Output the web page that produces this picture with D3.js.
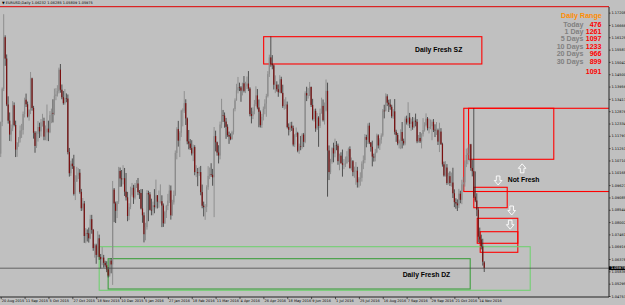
<!DOCTYPE html>
<html><head><meta charset="utf-8">
<script src="https://cdn.jsdelivr.net/npm/d3@7/dist/d3.min.js"></script>
<style>html,body{margin:0;padding:0;background:#c0c0c0;} svg{display:block}</style>
</head><body><svg id="c" width="625" height="305"></svg>
<script>
// EURUSD Daily, prices stored as pips over 1.0000 (price = 1 + v/10000)
const opens=[1101,1240,1386,1613,1519,1317,1246,1185,1212,1314,1227,1119,1148,1167,1203,1205,1275,1338,1318,1264,1292,1432,1302,1193,1135,1188,1218,1199,1239,1245,1176,1194,1211,1195,1270,1280,1277,1355,1361,1376,1470,1382,1349,1323,1345,1343,1108,1015,1057,1046,924,978,1005,1017,933,861,882,739,752,751,729,813,766,686,698,656,729,647,637,644,621,610,592,565,631,614,943,882,850,890,1025,992,988,993,934,909,827,867,920,951,908,962,970,932,928,860,830,747,778,928,922,854,851,874,866,918,890,890,892,873,795,844,871,894,939,830,887,920,1104,1209,1158,1193,1290,1290,1323,1256,1155,1145,1125,1102,1130,1020,1020,1015,1020,932,872,866,867,954,1003,1011,1008,997,1178,1151,1106,1093,1229,1269,1268,1242,1219,1183,1176,1165,1196,1297,1335,1379,1393,1392,1378,1410,1377,1396,1409,1387,1275,1267,1287,1318,1357,1304,1285,1226,1263,1298,1321,1354,1451,1524,1496,1489,1404,1404,1384,1371,1428,1368,1310,1314,1317,1218,1206,1224,1213,1141,1182,1192,1114,1133,1131,1185,1153,1367,1357,1357,1394,1315,1253,1289,1212,1260,1223,1280,1311,1248,1291,1377,1115,1020,1065,1125,1102,1138,1136,1068,1092,1059,1052,1053,1060,1089,1121,1038,1068,1020,1026,1026,975,991,995,1057,1073,1174,1162,1224,1150,1131,1088,1084,1107,1181,1137,1162,1181,1290,1289,1353,1325,1317,1307,1265,1287,1197,1183,1146,1157,1196,1157,1146,1255,1238,1260,1232,1242,1217,1246,1241,1155,1170,1155,1187,1205,1226,1255,1213,1218,1222,1241,1206,1204,1204,1154,1198,1143,1054,1005,1040,972,1002,972,974,927,888,882,874,925,898,966,975,1056,1095,1103,1142,1038,1024,912,895,855,736,724,693,623.2];
const highs=[1242,1392,1714,1621,1537,1353,1282,1229,1332,1326,1246,1152,1174,1225,1232,1286,1347,1365,1330,1296,1460,1435,1311,1200,1199,1244,1237,1253,1276,1259,1225,1317,1246,1288,1299,1340,1387,1389,1402,1479,1495,1405,1376,1385,1366,1361,1126,1070,1080,1096,1006,1043,1037,1033,946,906,893,774,768,776,832,832,770,705,705,760,745,660,690,656,630,628,602,640,641,981,950,890,893,1043,1040,1029,1050,1038,1016,933,883,956,972,964,972,985,994,941,945,945,843,797,941,938,932,903,890,945,987,919,939,966,918,882,850,876,924,964,961,898,939,1115,1217,1245,1200,1294,1300,1376,1340,1260,1205,1165,1160,1141,1138,1050,1038,1043,1047,965,890,879,962,1046,1040,1059,1034,1218,1202,1154,1138,1242,1342,1293,1282,1258,1230,1198,1190,1202,1300,1344,1408,1438,1413,1398,1413,1442,1417,1440,1464,1393,1303,1305,1337,1397,1385,1339,1291,1276,1308,1340,1364,1464,1536,1616,1534,1493,1445,1419,1405,1446,1439,1404,1340,1349,1330,1234,1240,1241,1224,1187,1216,1197,1145,1179,1191,1192,1375,1395,1389,1416,1396,1342,1298,1299,1280,1266,1299,1347,1339,1326,1427,1413,1137,1078,1129,1149,1167,1156,1145,1101,1107,1119,1077,1088,1112,1128,1133,1084,1073,1044,1064,1043,998,1019,1067,1093,1187,1184,1234,1237,1152,1158,1101,1122,1189,1186,1169,1190,1297,1316,1366,1362,1338,1340,1316,1297,1341,1206,1192,1163,1208,1240,1167,1264,1268,1327,1280,1255,1262,1260,1277,1253,1183,1196,1191,1257,1239,1278,1262,1255,1251,1250,1253,1230,1240,1211,1237,1213,1149,1066,1068,1055,1017,1023,1018,1039,944,905,900,946,938,986,999,1071,1123,1127,1143,1144,1073,1300,1023,927,865,776,745,727,628.5];
const lows=[1086,1222,1376,1487,1310,1233,1157,1155,1200,1221,1086,1087,1131,1150,1170,1185,1260,1306,1260,1246,1275,1290,1167,1105,1126,1154,1170,1176,1220,1160,1160,1158,1156,1191,1235,1238,1270,1336,1352,1366,1369,1340,1316,1316,1327,1098,1000,1003,1034,917,897,977,990,925,849,851,709,707,715,710,725,749,674,644,617,646,634,596,611,600,601,580,557,560,575,524,800,796,818,880,955,956,966,915,895,804,809,857,912,880,900,950,919,902,856,797,711,720,767,804,851,830,830,839,860,860,863,882,778,779,792,818,853,884,811,828,877,915,1076,1132,1086,1174,1221,1280,1227,1142,1120,1117,1093,1068,1006,998,958,1003,918,861,825,810,844,942,989,999,960,822,1111,1092,1058,1076,1213,1240,1215,1166,1175,1144,1160,1162,1185,1287,1334,1366,1376,1329,1357,1370,1367,1385,1376,1265,1234,1253,1274,1310,1296,1217,1216,1214,1247,1274,1263,1348,1438,1483,1472,1383,1367,1374,1351,1367,1366,1302,1294,1298,1212,1181,1196,1201,1133,1130,1174,1107,1100,1116,1123,1130,1147,1332,1343,1354,1306,1247,1242,1197,1205,1131,1214,1276,1242,1229,1287,912,985,1011,1057,1063,1085,1116,1052,1028,1057,1000,1033,1042,1056,1064,1035,1027,1002,995,964,952,952,960,978,1033,1059,1129,1143,1143,1110,1045,1066,1067,1103,1124,1117,1145,1175,1256,1286,1310,1284,1294,1257,1254,1185,1153,1138,1124,1121,1124,1137,1138,1229,1224,1214,1201,1206,1213,1221,1147,1150,1148,1124,1176,1198,1220,1203,1190,1208,1160,1196,1174,1183,1139,1108,1139,1044,1000,1000,964,966,959,956,906,866,859,849,862,883,879,941,956,1042,1054,1067,1026,1001,906,888,826,711,708,680,609,580.9];
const closes=[1240,1386,1613,1519,1317,1246,1185,1212,1314,1227,1119,1148,1167,1203,1205,1275,1338,1318,1264,1292,1432,1302,1193,1135,1188,1218,1199,1239,1245,1176,1194,1211,1195,1270,1280,1277,1355,1361,1376,1470,1382,1349,1323,1345,1343,1108,1015,1057,1046,924,978,1005,1017,933,861,882,739,752,751,729,813,766,686,698,656,729,647,637,644,621,610,592,565,631,614,943,882,850,890,1025,992,988,993,934,909,827,867,920,951,908,962,970,932,928,860,830,747,778,928,922,854,851,874,866,918,890,890,892,873,795,844,871,894,939,830,887,920,1104,1209,1158,1193,1290,1290,1323,1256,1155,1145,1125,1102,1130,1020,1020,1015,1020,932,872,866,867,954,1003,1011,1008,997,1178,1151,1106,1093,1229,1269,1268,1242,1219,1183,1176,1165,1196,1297,1335,1379,1393,1392,1378,1410,1377,1396,1409,1387,1275,1267,1287,1318,1357,1304,1285,1226,1263,1298,1321,1354,1451,1524,1496,1489,1404,1404,1384,1371,1428,1368,1310,1314,1317,1218,1206,1224,1213,1141,1182,1192,1114,1133,1131,1185,1153,1367,1357,1357,1394,1315,1253,1289,1212,1260,1223,1280,1311,1248,1291,1377,1115,1020,1065,1125,1102,1138,1136,1068,1092,1059,1052,1053,1060,1089,1121,1038,1068,1020,1026,1026,975,991,995,1057,1073,1174,1162,1224,1150,1131,1088,1084,1107,1181,1137,1162,1181,1290,1289,1353,1325,1317,1307,1265,1287,1197,1183,1146,1157,1196,1157,1146,1255,1238,1260,1232,1242,1217,1246,1241,1155,1170,1155,1187,1205,1226,1255,1213,1218,1222,1241,1206,1204,1204,1154,1198,1143,1054,1005,1040,972,1002,972,974,927,888,882,874,925,898,966,975,1056,1095,1103,1142,1038,1024,912,895,855,736,724,693,626,597.5];

const xTickLabels=["20 Aug 2015","11 Sep 2015","5 Oct 2015","27 Oct 2015","18 Nov 2015","10 Dec 2015","5 Jan 2016","27 Jan 2016","18 Feb 2016","11 Mar 2016","4 Apr 2016","26 Apr 2016","18 May 2016","9 Jun 2016","1 Jul 2016","25 Jul 2016","16 Aug 2016","7 Sep 2016","29 Sep 2016","21 Oct 2016","14 Nov 2016"];
const yTickLabels=["1.04753","1.05295","1.05836","1.06378","1.06919","1.07461","1.08002","1.08544","1.09085","1.09627","1.10168","1.10710","1.11251","1.11793","1.12334","1.12876","1.13417","1.13959","1.14500","1.15042","1.15583","1.16125","1.16666","1.17208"];
const titleText="\u25BC EURUSD,Daily  1.06232 1.06285 1.05809 1.05975";
const currentPrice=1.05975;

// zones: [startBar, endBar, topPrice, bottomPrice, kind]
const zoneStart=[176.2,310.3,313.5,317,319.3,321.3,66,72];
const zoneEnd  =[322.4,420,370.6,339.4,346.5,346.5,354.8,314.6];
const zoneTop  =[1.16151,1.13004,1.13004,1.09531,1.08168,1.07579,1.0692,1.06393];
const zoneBot  =[1.14951,1.09346,1.10762,1.08634,1.07070,1.06674,1.05004,1.05061];
const zoneKind =["sz","sz","sz","sz","sz","sz","dzOuter","dzInner"];

const noteText=["Daily Fresh SZ","Daily Fresh DZ","Not Fresh"];
const noteBar=[293.5,285.3,350.4];
const notePrice=[1.15597,1.05707,1.09883];

const arrowDir=["down","up","down","down"];
const arrowBar=[333.3,349.4,342.4,341.4];
const arrowPrice=[1.09830,1.10366,1.08511,1.07887];

const rangeTitle="Daily Range";
const rangeLabels=["Today","1 Day","5 Days","10 Days","20 Days","30 Days"];
const rangeValues=["476","1261","1097","1233","966","899"];
const rangeAverage="1091";

const svg=d3.select("#c");
const W=625,H=305, plotR=609, plotB=297, plotT=7;
const px=v=>1+v/10000;

const x=d3.scaleLinear().domain([0,407.6]).range([0.7,plotR]);
const y=d3.scaleLinear().domain([+yTickLabels[0],+yTickLabels[yTickLabels.length-1]]).range([296,296-23*12.32]);

svg.append("rect").attr("width",W).attr("height",H).attr("fill","#c0c0c0");

const plot=svg.append("g");
plot.append("clipPath").attr("id","clip").append("rect").attr("x",0).attr("y",plotT).attr("width",plotR).attr("height",plotB-plotT);
const g=plot.append("g").attr("clip-path","url(#clip)");

zoneKind.forEach((k,i)=>{
  let col = k==="dzOuter" ? "#72d072" : (k==="dzInner" ? "#3f9f3f" : "#ff0000");
  g.append("rect")
   .attr("x",x(zoneStart[i])).attr("y",y(zoneTop[i]))
   .attr("width",x(zoneEnd[i])-x(zoneStart[i])).attr("height",y(zoneBot[i])-y(zoneTop[i]))
   .attr("fill","none").attr("stroke",col).attr("stroke-width",1.1);
});

const data=closes.map((c,i)=>({i,o:px(opens[i]),h:px(highs[i]),l:px(lows[i]),c:px(c)}));
const cg=g.append("g");
cg.selectAll("line.w").data(data).join("line")
  .attr("x1",d=>x(d.i)).attr("x2",d=>x(d.i))
  .attr("y1",d=>y(d.h)).attr("y2",d=>y(d.l))
  .attr("stroke",d=>d.c>=d.o?"#7a7a7a":"#202020").attr("stroke-width",0.7);
cg.selectAll("rect.b").data(data).join("rect")
  .attr("x",d=>x(d.i)-0.6).attr("width",1.2)
  .attr("y",d=>y(Math.max(d.o,d.c))).attr("height",d=>Math.max(0.6,Math.abs(y(d.o)-y(d.c))))
  .attr("fill",d=>d.c>=d.o?"#8c8c8c":"#7a1010");

g.append("line").attr("x1",0).attr("x2",plotR).attr("y1",y(currentPrice)).attr("y2",y(currentPrice))
 .attr("stroke","#4a4a4a").attr("stroke-width",0.8);

arrowDir.forEach((d,i)=>{
  const cx=x(arrowBar[i]), cy=y(arrowPrice[i]);
  const s = d==="down"?1:-1;
  const pts=[[-1.8,-4.5],[1.8,-4.5],[1.8,0],[3.8,0],[0,4.5],[-3.8,0],[-1.8,0]].map(p=>[cx+p[0],cy+s*p[1]]);
  g.append("polygon").attr("points",pts.map(p=>p.join(",")).join(" "))
   .attr("fill","none").attr("stroke","#ffffff").attr("stroke-width",0.9);
});

noteText.forEach((t,i)=>{
  g.append("text").attr("x",x(noteBar[i])).attr("y",y(notePrice[i])).attr("dy","0.35em")
   .attr("text-anchor","middle").attr("font-family","Liberation Sans, Arial, sans-serif")
   .attr("font-weight","bold").attr("font-size",6.8).attr("fill","#000").text(t);
});

svg.append("line").attr("x1",0).attr("x2",plotR).attr("y1",6.7).attr("y2",6.7).attr("stroke","#e00000").attr("stroke-width",1);

const axFont=3.5;
const yAxis=d3.axisRight(y).tickValues(yTickLabels.map(Number)).tickFormat((d,i)=>yTickLabels[i]).tickSize(1.6).tickPadding(0.8);
const ya=svg.append("g").attr("transform",`translate(${plotR},0)`).call(yAxis);
ya.select(".domain").remove();
ya.selectAll("text").attr("font-size",axFont).attr("font-family","DejaVu Sans, sans-serif").attr("fill","#000");
ya.selectAll("line").attr("stroke","#000").attr("stroke-width",0.6);

const xAxis=d3.axisBottom(x).tickValues(xTickLabels.map((_,i)=>i*16)).tickFormat((d,i)=>xTickLabels[i]).tickSize(2.2).tickPadding(0.5);
const xa=svg.append("g").attr("transform",`translate(0,${plotB})`).call(xAxis);
xa.select(".domain").remove();
xa.selectAll("text").attr("font-size",axFont).attr("font-family","DejaVu Sans, sans-serif").attr("fill","#000").attr("text-anchor","start").attr("dx","0.6");
xa.selectAll("line").attr("stroke","#000").attr("stroke-width",0.6);

svg.append("line").attr("x1",plotR).attr("x2",plotR).attr("y1",plotT).attr("y2",plotB).attr("stroke","#222").attr("stroke-width",1);
svg.append("line").attr("x1",0).attr("x2",plotR).attr("y1",plotB).attr("y2",plotB).attr("stroke","#222").attr("stroke-width",1);

const cy=y(currentPrice);
svg.append("rect").attr("x",plotR).attr("y",cy-1.9).attr("width",W-plotR).attr("height",3.8).attr("fill","#000");
svg.append("text").attr("x",plotR+2).attr("y",cy).attr("dy","0.35em").attr("font-size",axFont)
  .attr("font-family","DejaVu Sans, sans-serif").attr("fill","#fff").text(currentPrice.toFixed(5));

svg.append("text").attr("x",2).attr("y",4.4).attr("font-size",axFont).attr("font-family","DejaVu Sans, sans-serif").attr("fill","#000").text(titleText);

const ff="Liberation Sans, Arial, sans-serif", fs=7.1;
svg.append("text").attr("x",601.7).attr("y",15).attr("dy","0.36em").attr("text-anchor","end")
  .attr("font-family",ff).attr("font-weight","bold").attr("font-size",fs).attr("fill","#ff8c00").text(rangeTitle);
rangeLabels.forEach((t,i)=>{
  const yy=24+i*7.46;
  svg.append("text").attr("x",583.5).attr("y",yy).attr("dy","0.36em").attr("text-anchor","end")
    .attr("font-family",ff).attr("font-weight","bold").attr("font-size",fs).attr("fill","#808080").text(t);
  svg.append("text").attr("x",601.5).attr("y",yy).attr("dy","0.36em").attr("text-anchor","end")
    .attr("font-family",ff).attr("font-weight","bold").attr("font-size",fs).attr("fill","#ff0000").text(rangeValues[i]);
});
svg.append("text").attr("x",601.5).attr("y",71.3).attr("dy","0.36em").attr("text-anchor","end")
  .attr("font-family",ff).attr("font-weight","bold").attr("font-size",fs).attr("fill","#ff0000").text(rangeAverage);
</script></body></html>
